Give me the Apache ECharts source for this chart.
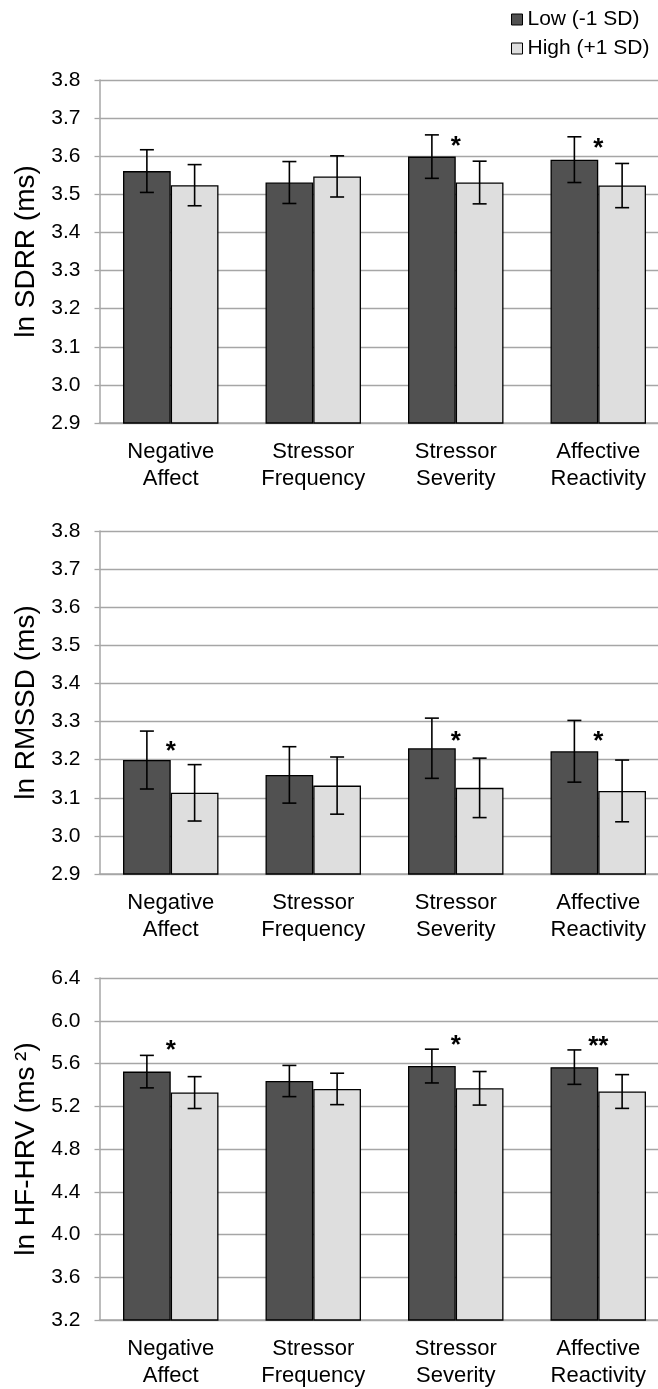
<!DOCTYPE html>
<html>
<head>
<meta charset="utf-8">
<script src="https://cdn.jsdelivr.net/npm/echarts@6/dist/echarts.min.js"></script>
<style>
html,body{margin:0;padding:0;background:#fff;overflow:hidden;width:658px;height:1389px;}
#main{width:670px;height:1389px;}
</style>
</head>
<body>
<div id="main"></div>
<script>
// ---- data ----
const categories = ['Negative\nAffect', 'Stressor\nFrequency', 'Stressor\nSeverity', 'Affective\nReactivity'];
const seriesNames = ['Low (-1 SD)', 'High (+1 SD)'];

const sdrrLow = [3.561, 3.531, 3.599, 3.591];
const sdrrLowErr = [0.056, 0.055, 0.057, 0.060];
const sdrrHigh = [3.524, 3.547, 3.531, 3.523];
const sdrrHighErr = [0.054, 0.054, 0.056, 0.058];
const sdrrSig = ['', '', '*', '*'];
const sdrrSigY = [null, null, 3.643, 3.638];

const rmssdLow = [3.199, 3.160, 3.230, 3.222];
const rmssdLowErr = [0.076, 0.074, 0.079, 0.081];
const rmssdHigh = [3.113, 3.132, 3.126, 3.118];
const rmssdHighErr = [0.074, 0.075, 0.078, 0.081];
const rmssdSig = ['*', '', '*', '*'];
const rmssdSigY = [3.240, null, 3.264, 3.264];

const hfLow = [5.524, 5.436, 5.576, 5.566];
const hfLowErr = [0.152, 0.146, 0.158, 0.161];
const hfHigh = [5.328, 5.362, 5.368, 5.338];
const hfHighErr = [0.149, 0.147, 0.157, 0.158];
const hfSig = ['*', '', '*', '**'];
const hfSigY = [5.787, null, 5.833, 5.817];

const yNames = ['ln SDRR (ms)', 'ln RMSSD (ms)', 'ln HF-HRV (ms\u2009\u00b2)'];
const yMin = [2.9, 2.9, 3.2];
const yMax = [3.8, 3.8, 6.4];
const yInterval = [0.1, 0.1, 0.4];

// ---- styling ----
const FONT = 'Liberation Sans, Arial, sans-serif';
const DARK = '#515151';
const LIGHT = '#dedede';
const GRIDC = '#a6a6a6';
const CAT_GAP = 0.33;

const panels = [
  {low: sdrrLow, lowErr: sdrrLowErr, high: sdrrHigh, highErr: sdrrHighErr, sig: sdrrSig, sigY: sdrrSigY},
  {low: rmssdLow, lowErr: rmssdLowErr, high: rmssdHigh, highErr: rmssdHighErr, sig: rmssdSig, sigY: rmssdSigY},
  {low: hfLow, lowErr: hfLowErr, high: hfHigh, highErr: hfHighErr, sig: hfSig, sigY: hfSigY}
];
const gridTops = [80, 531, 978];
const gridH = 343;

function errRender(sign) {
  return function (params, api) {
    const idx = api.value(0), v = api.value(1), e = api.value(2);
    const band = api.size([1, 0])[0];
    const barW = band * (1 - CAT_GAP) / 2;
    const cx = api.coord([idx, v])[0] + sign * barW / 2;
    const top = api.coord([idx, v + e])[1];
    const bot = api.coord([idx, v - e])[1];
    const cap = 7;
    const st = {stroke: '#000', lineWidth: 1.6};
    return {
      type: 'group',
      children: [
        {type: 'line', shape: {x1: cx, y1: top, x2: cx, y2: bot}, style: st},
        {type: 'line', shape: {x1: cx - cap, y1: top, x2: cx + cap, y2: top}, style: st},
        {type: 'line', shape: {x1: cx - cap, y1: bot, x2: cx + cap, y2: bot}, style: st}
      ]
    };
  };
}

const grid = [], xAxis = [], yAxis = [], series = [];
panels.forEach(function (p, g) {
  grid.push({left: 99.5, right: 0.5, top: gridTops[g], height: gridH});
  xAxis.push({
    type: 'category', gridIndex: g, data: categories,
    axisLine: {show: true, lineStyle: {color: GRIDC, width: 1.5}},
    axisTick: {show: false},
    axisLabel: {color: '#000', fontSize: 22, fontFamily: FONT, lineHeight: 27, margin: 15, interval: 0}
  });
  yAxis.push({
    type: 'value', gridIndex: g, min: yMin[g], max: yMax[g], interval: yInterval[g],
    name: yNames[g], nameLocation: 'middle', nameGap: 55,
    nameTextStyle: {color: '#000', fontSize: 28, fontFamily: FONT},
    axisLine: {show: true, lineStyle: {color: GRIDC, width: 1.5}},
    axisTick: {show: true, length: 5, lineStyle: {color: GRIDC, width: 1.3}},
    splitLine: {show: true, lineStyle: {color: GRIDC, width: 1.3}},
    axisLabel: {color: '#000', fontSize: 21, fontFamily: FONT, margin: 19,
      formatter: function (v) { return v.toFixed(1); }}
  });
  series.push({
    name: seriesNames[0], type: 'bar', xAxisIndex: g, yAxisIndex: g, data: p.low,
    barGap: '0%', barCategoryGap: (CAT_GAP * 100) + '%',
    itemStyle: {color: DARK, borderColor: '#000', borderWidth: 1.3}, animation: false
  });
  series.push({
    name: seriesNames[1], type: 'bar', xAxisIndex: g, yAxisIndex: g, data: p.high,
    barGap: '0%', barCategoryGap: (CAT_GAP * 100) + '%',
    itemStyle: {color: LIGHT, borderColor: '#000', borderWidth: 1.3}, animation: false
  });
  series.push({
    type: 'custom', xAxisIndex: g, yAxisIndex: g, z: 5, animation: false, silent: true,
    renderItem: errRender(-1),
    data: p.low.map(function (v, i) { return [i, v, p.lowErr[i]]; })
  });
  series.push({
    type: 'custom', xAxisIndex: g, yAxisIndex: g, z: 5, animation: false, silent: true,
    renderItem: errRender(1),
    data: p.high.map(function (v, i) { return [i, v, p.highErr[i]]; })
  });
  const marks = [];
  p.sig.forEach(function (s, i) { if (s) marks.push({idx: i, y: p.sigY[i], text: s}); });
  series.push({
    type: 'custom', xAxisIndex: g, yAxisIndex: g, z: 6, animation: false, silent: true,
    renderItem: function (params, api) {
      const m = marks[params.dataIndex];
      const pt = api.coord([m.idx, m.y]);
      return {type: 'text', x: pt[0], y: pt[1] + 7,
        style: {text: m.text, fill: '#000', font: 'bold 26px ' + FONT, align: 'center', verticalAlign: 'middle'}};
    },
    data: marks.map(function (m) { return [m.idx, m.y]; })
  });
});

const chart = echarts.init(document.getElementById('main'), null, {renderer: 'canvas'});
chart.setOption({
  animation: false,
  backgroundColor: '#fff',
  legend: {
    data: seriesNames, orient: 'vertical', left: 511, top: 9, padding: 0,
    icon: 'rect', itemWidth: 11, itemHeight: 11, itemGap: 8,
    itemStyle: {borderColor: '#000', borderWidth: 1},
    textStyle: {color: '#000', fontSize: 21, fontFamily: FONT, lineHeight: 21}
  },
  grid: grid, xAxis: xAxis, yAxis: yAxis, series: series
});
</script>
</body>
</html>
